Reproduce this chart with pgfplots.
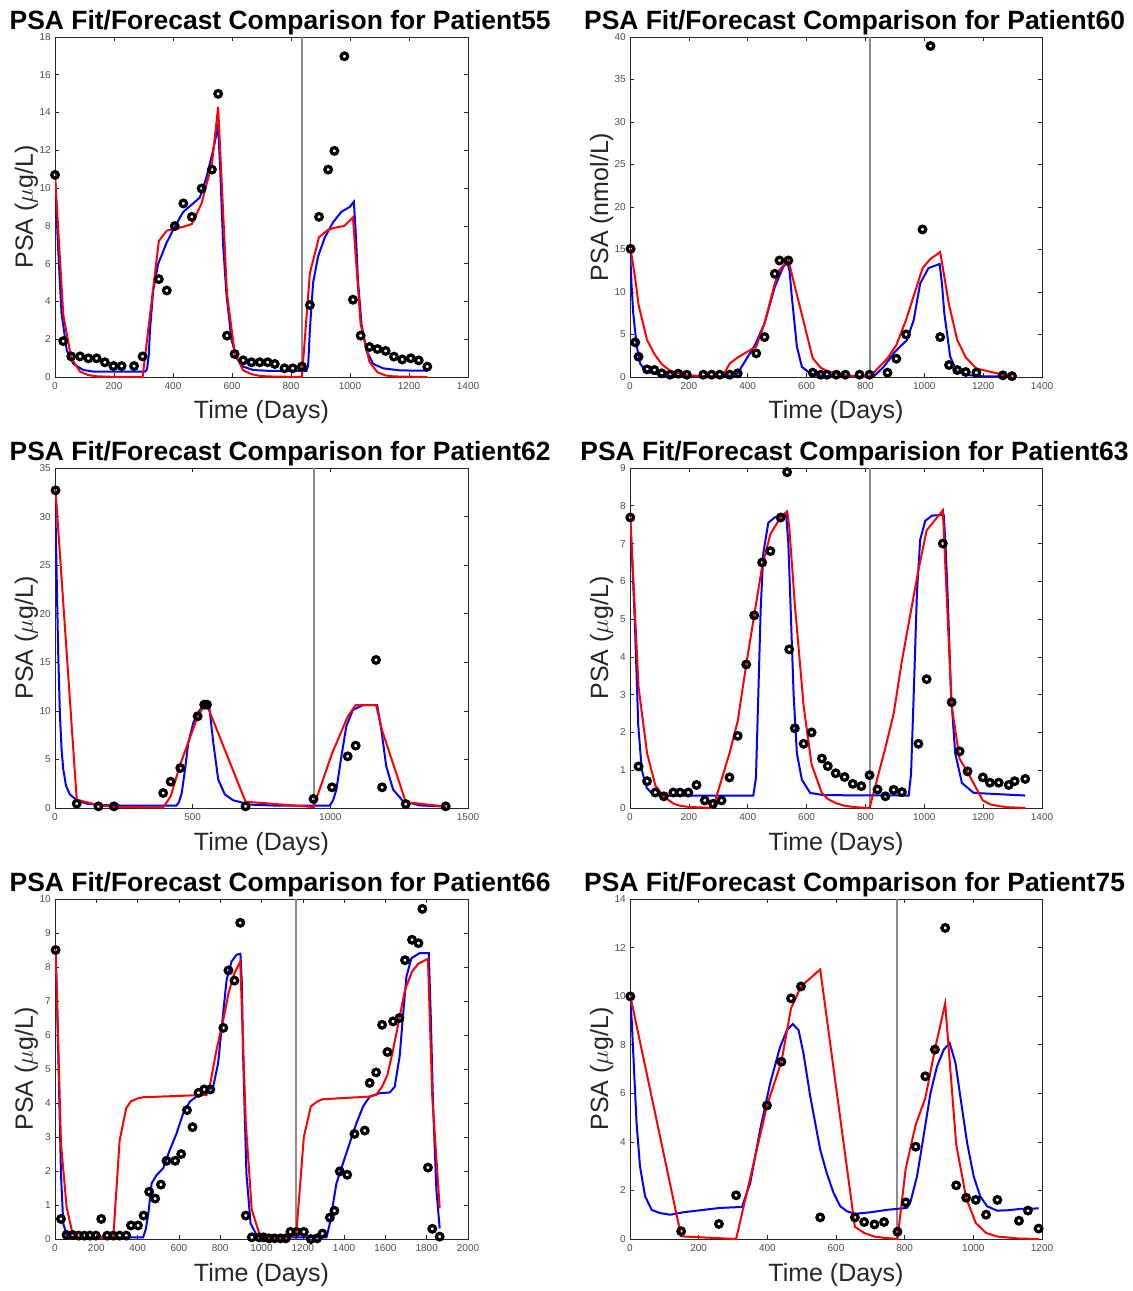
\documentclass[border=0pt]{standalone}
\usepackage{fontspec}
\setmainfont{Liberation Sans}
\usepackage{pgfplots}
\pgfplotsset{compat=1.18}
\definecolor{axgray}{gray}{0.15}
\definecolor{tkgray}{gray}{0.3}
\definecolor{vgray}{gray}{0.55}
\pgfplotsset{
  psa/.style={
    scale only axis, width=413bp, height=340bp,
    xmin=0, ymin=0,
    axis line style={axgray, line width=0.6bp},
    every tick/.style={axgray, line width=0.6bp},
    major tick length=4bp,
    tick align=inside,
    tick label style={font=\fontsize{10bp}{12bp}\selectfont, text=tkgray},
    xticklabel style={inner sep=0pt, anchor=north, yshift=-5bp},
    yticklabel style={inner sep=0pt, anchor=east, xshift=-4bp},
    /pgf/number format/assume math mode=true,
    /pgf/number format/1000 sep={},
    scaled ticks=false,
    every axis title shift=0pt,
    title style={font=\fontsize{26.45bp}{30bp}\selectfont\bfseries, at={(axis description cs:0.545,1.0235)}, anchor=base, inner sep=0pt},
    xlabel={Time (Days)},
    xlabel style={font=\fontsize{25bp}{30bp}\selectfont, text=axgray, at={(axis description cs:0.5,-0.1235)}, anchor=base, inner sep=0pt},
    ylabel style={font=\fontsize{25bp}{30bp}\selectfont, text=axgray, at={(axis description cs:-0.0533,0.5)}, anchor=base, inner sep=0pt},
    clip=true,
  },
  bl/.style={color={rgb,1:red,0;green,0;blue,1}, line width=2bp, no marks},
  rd/.style={color={rgb,1:red,1;green,0;blue,0}, line width=2bp, no marks},
  vl/.style={color=vgray, line width=2bp, no marks},
  pts/.style={only marks, mark=o, mark size=3.3bp, line width=3.2bp, color=black},
}
\begin{document}
\begin{tikzpicture}
\useasboundingbox (0,0) rectangle (1133bp,-1291bp);

% ---------------- Panel 1: Patient55
\begin{axis}[psa, at={(55bp,-377bp)}, anchor=south west,
  xmax=1400, ymax=18, xtick={0,200,...,1400}, ytick={0,2,...,18},
  title={PSA Fit/Forecast Comparison for Patient55},
  ylabel={PSA ($\mu$g/L)}]
\addplot[vl] coordinates {(837,0) (837,18)};
\addplot[bl] coordinates {(0,10.6) (10,7) (22,3.4) (40,1.4) (62,0.7) (96,0.37) (130,0.29) (200,0.28) (305,0.28) (312,0.4) (318,1.2) (322,2.5) (333,4.6) (350,6.0) (378,7.1) (406,7.95) (435,8.75) (469,9.2) (491,9.5) (514,10.6) (536,12.0) (553,13.3) (560,11) (570,7) (581,4.4) (598,2.0) (615,1.0) (638,0.55) (672,0.37) (720,0.33) (852,0.32) (858,0.6) (864,2.5) (875,5.0) (892,6.4) (915,7.4) (943,8.2) (971,8.75) (999,9.0) (1013,9.28) (1020,7.5) (1027,5.1) (1039,2.8) (1056,1.4) (1078,0.7) (1112,0.46) (1169,0.35) (1262,0.33)};
\addplot[rd] coordinates {(0,10.7) (28,3.3) (55,1.0) (85,0.28) (113,0.1) (141,0.04) (169,0.02) (198,0.01) (297,0) (352,7.2) (379,7.75) (406,7.85) (435,7.95) (464,8.1) (497,9.2) (532,11.3) (553,14.3) (583,4.4) (609,1.3) (638,0.35) (666,0.15) (694,0.06) (721,0.03) (837,0) (864,5.5) (895,7.4) (926,7.8) (947,7.9) (981,8.0) (1010,8.45) (1036,2.8) (1066,0.8) (1093,0.25) (1121,0.08) (1149,0.03) (1262,0)};
\addplot[pts] coordinates {(0,10.7) (28,1.9) (55,1.09) (85,1.09) (113,0.99) (141,0.99) (169,0.78) (198,0.58) (226,0.58) (268,0.58) (297,1.09) (352,5.18) (379,4.58) (406,7.99) (435,9.19) (464,8.48) (497,9.98) (532,10.98) (553,14.99) (583,2.19) (609,1.22) (638,0.88) (666,0.78) (694,0.78) (721,0.78) (745,0.69) (778,0.46) (806,0.46) (837,0.55) (864,3.81) (895,8.48) (926,10.98) (947,11.97) (981,16.98) (1010,4.09) (1036,2.19) (1066,1.59) (1093,1.48) (1121,1.38) (1149,1.08) (1177,0.93) (1206,0.99) (1233,0.88) (1262,0.55)};
\end{axis}

% ---------------- Panel 2: Patient60
\begin{axis}[psa, width=412bp, at={(630bp,-377bp)}, anchor=south west,
  xmax=1400, ymax=40, xtick={0,200,...,1400}, ytick={0,5,...,40},
  title={PSA Fit/Forecast Comparison for Patient60},
  ylabel={PSA (nmol/L)}]
\addplot[vl] coordinates {(814,0) (814,40)};
\addplot[bl] coordinates {(0,15) (5,11) (11,7.5) (23,3.6) (34,1.6) (51,0.8) (79,0.4) (113,0.2) (160,0.1) (329,0.1) (345,0.2) (366,0.45) (397,2.2) (425,3.8) (457,6.3) (492,10.6) (521,13.0) (535,13.4) (542,12.5) (550,9.4) (567,3.6) (584,1.2) (612,0.43) (658,0.12) (700,0.05) (828,0.05) (862,1.2) (901,3.0) (941,4.35) (964,6.7) (986,11.0) (1014,12.8) (1052,13.3) (1060,11) (1068,7.5) (1088,2.4) (1111,0.6) (1156,0.2) (1200,0.08) (1298,0.05)};
\addplot[rd] coordinates {(2,15.1) (18,11.5) (29,8.5) (58,4.35) (83,2.7) (108,1.5) (136,0.75) (164,0.43) (193,0.2) (249,0.1) (277,0.1) (315,0.1) (339,1.6) (366,2.3) (429,3.6) (457,6.3) (492,11.0) (508,12.6) (538,13.75) (621,2.2) (648,1.1) (669,0.7) (701,0.4) (732,0.2) (780,0.04) (814,0) (875,2.2) (905,3.75) (938,6.7) (994,12.8) (1021,13.9) (1054,14.7) (1084,8.5) (1112,4.35) (1141,2.3) (1177,1.0) (1267,0.27) (1298,0.1)};
\addplot[pts] coordinates {(2,15.08) (18,4.07) (29,2.39) (58,0.9) (83,0.82) (108,0.43) (136,0.27) (164,0.39) (193,0.27) (249,0.27) (277,0.27) (305,0.27) (339,0.27) (366,0.43) (429,2.78) (457,4.7) (492,12.14) (508,13.71) (538,13.71) (621,0.51) (648,0.27) (669,0.27) (701,0.27) (732,0.27) (780,0.27) (814,0.27) (875,0.51) (905,2.15) (938,5.01) (994,17.36) (1021,38.94) (1054,4.70) (1084,1.41) (1112,0.82) (1141,0.59) (1177,0.51) (1267,0.2) (1298,0.1)};
\end{axis}

% ---------------- Panel 3: Patient62
\begin{axis}[psa, at={(55bp,-808bp)}, anchor=south west,
  xmax=1500, ymax=35, xtick={0,500,...,1500}, ytick={0,5,...,35},
  title={PSA Fit/Forecast Comparison for Patient62},
  ylabel={PSA ($\mu$g/L)}]
\addplot[vl] coordinates {(939,0) (939,35)};
\addplot[bl] coordinates {(0,32.7) (4,27) (8,21) (12,15.5) (18,9.5) (24,6) (30,4) (40,2.3) (54,1.4) (79,0.8) (115,0.45) (163,0.3) (250,0.25) (441,0.25) (450,0.6) (460,1.5) (472,3.9) (484,6.7) (502,8.75) (526,10.1) (544,10.5) (560,10.5) (575,6.7) (593,2.9) (617,1.4) (647,0.8) (708,0.35) (800,0.25) (998,0.25) (1010,0.8) (1022,1.9) (1040,5.3) (1058,8.4) (1082,10.1) (1119,10.6) (1170,10.6) (1185,8.1) (1203,4.3) (1228,1.9) (1264,0.7) (1325,0.27) (1421,0.14)};
\addplot[rd] coordinates {(2,32.7) (79,0.86) (158,0.3) (214,0.1) (393,0.05) (420,1.2) (455,4.5) (518,9.4) (542,10.6) (552,10.6) (692,0.65) (939,0.1) (1006,5.6) (1063,9.4) (1092,10.6) (1166,10.6) (1188,8.0) (1274,0.6) (1419,0.15)};
\addplot[pts] coordinates {(2,32.7) (79,0.45) (158,0.17) (214,0.17) (393,1.54) (420,2.71) (455,4.12) (518,9.44) (542,10.64) (552,10.64) (692,0.17) (939,0.93) (1006,2.13) (1063,5.32) (1092,6.42) (1166,15.24) (1188,2.13) (1274,0.41) (1419,0.17)};
\end{axis}

% ---------------- Panel 4: Patient63
\begin{axis}[psa, width=412bp, at={(630bp,-808bp)}, anchor=south west,
  xmax=1400, ymax=9, xtick={0,200,...,1400}, ytick={0,1,...,9},
  title={PSA Fit/Forecast Comparision for Patient63},
  ylabel={PSA ($\mu$g/L)}]
\addplot[vl] coordinates {(814,0) (814,9)};
\addplot[bl] coordinates {(0,7.7) (8,6.5) (17,4.8) (28,2.2) (40,1.0) (57,0.53) (79,0.35) (120,0.33) (419,0.33) (428,0.8) (436,3.0) (444,5.25) (453,6.75) (470,7.55) (493,7.7) (531,7.75) (538,7.0) (544,5.7) (556,3.0) (567,1.45) (584,0.75) (612,0.4) (658,0.34) (947,0.33) (955,0.9) (964,3.0) (975,5.7) (986,7.1) (1003,7.6) (1026,7.74) (1066,7.76) (1072,7.0) (1079,5.7) (1091,3.0) (1105,1.45) (1128,0.66) (1168,0.4) (1343,0.33)};
\addplot[rd] coordinates {(1,7.7) (29,3.2) (58,1.45) (86,0.6) (115,0.3) (147,0.12) (170,0.06) (198,0.03) (226,0.02) (254,0.01) (282,0) (311,0.75) (338,1.45) (366,2.3) (395,3.8) (422,5.1) (449,6.4) (477,7.25) (512,7.7) (534,7.85) (541,7.45) (560,5.4) (590,2.7) (617,1.15) (652,0.4) (672,0.24) (699,0.13) (729,0.06) (757,0.03) (786,0.01) (814,0) (841,0.8) (868,1.6) (896,2.5) (924,3.9) (980,6.3) (1008,7.35) (1063,7.88) (1093,2.7) (1120,1.3) (1147,0.95) (1199,0.2) (1223,0.1) (1253,0.05) (1287,0.02) (1343,0)};
\addplot[pts] coordinates {(1,7.69) (29,1.10) (58,0.71) (86,0.41) (115,0.31) (147,0.41) (170,0.41) (198,0.41) (226,0.61) (254,0.2) (282,0.11) (311,0.2) (338,0.81) (366,1.91) (395,3.80) (422,5.10) (449,6.50) (477,6.80) (512,7.69) (534,8.89) (541,4.20) (560,2.11) (590,1.70) (617,2.0) (652,1.31) (672,1.11) (699,0.92) (729,0.82) (757,0.64) (786,0.58) (814,0.87) (841,0.49) (868,0.31) (896,0.48) (924,0.42) (980,1.70) (1008,3.41) (1063,7.0) (1093,2.80) (1120,1.50) (1147,0.97) (1199,0.81) (1223,0.67) (1253,0.67) (1287,0.61) (1307,0.71) (1343,0.77)};
\end{axis}

% ---------------- Panel 5: Patient66
\begin{axis}[psa, at={(55bp,-1239bp)}, anchor=south west,
  xmax=2000, ymax=10, xtick={0,200,...,2000}, ytick={0,1,...,10},
  title={PSA Fit/Forecast Comparison for Patient66},
  ylabel={PSA ($\mu$g/L)}]
\addplot[vl] coordinates {(1169,0) (1169,10)};
\addplot[bl] coordinates {(0,8.5) (8,7.5) (16,5.4) (29,1.9) (40,0.46) (56,0.12) (80,0.05) (427,0.05) (440,0.3) (452,0.75) (468,1.64) (492,1.88) (524,2.08) (556,2.62) (589,3.11) (621,3.7) (653,4.04) (685,4.19) (718,4.29) (766,4.48) (790,5.17) (806,6.15) (831,7.62) (855,8.16) (879,8.36) (898,8.39) (905,7.5) (911,5.37) (927,1.93) (947,0.46) (976,0.12) (1000,0.05) (1315,0.05) (1331,0.46) (1347,1.05) (1363,1.64) (1395,2.23) (1427,2.82) (1460,3.41) (1492,3.9) (1524,4.19) (1573,4.29) (1621,4.31) (1645,4.48) (1669,5.37) (1685,6.55) (1702,7.72) (1726,8.26) (1766,8.41) (1810,8.41) (1820,6.5) (1831,3.9) (1847,1.44) (1863,0.31)};
\addplot[rd] coordinates {(3,8.5) (29,2.8) (56,0.95) (85,0.15) (115,0.05) (142,0.03) (282,0.02) (313,2.9) (345,3.85) (368,4.05) (402,4.14) (429,4.17) (734,4.24) (752,4.58) (782,5.56) (815,6.45) (840,7.23) (869,7.82) (897,8.16) (924,3.4) (953,0.85) (989,0.17) (1010,0.05) (1140,0.05) (1169,0.2) (1205,3.0) (1239,3.9) (1269,4.04) (1295,4.11) (1524,4.19) (1555,4.24) (1584,4.48) (1610,4.83) (1637,5.56) (1668,6.5) (1695,7.33) (1729,7.87) (1760,8.1) (1806,8.24) (1827,4.19) (1863,0.9)};
\addplot[pts] coordinates {(3,8.50) (29,0.59) (56,0.12) (85,0.12) (115,0.1) (142,0.1) (169,0.1) (198,0.1) (224,0.59) (253,0.1) (282,0.1) (313,0.1) (345,0.1) (368,0.4) (402,0.4) (429,0.69) (456,1.39) (485,1.19) (513,1.6) (540,2.30) (582,2.30) (611,2.50) (639,3.79) (666,3.29) (695,4.30) (723,4.40) (752,4.40) (815,6.21) (840,7.90) (869,7.60) (897,9.30) (924,0.69) (953,0.05) (989,0.05) (1010,0.05) (1037,0.02) (1063,0.02) (1092,0.02) (1118,0.02) (1140,0.21) (1169,0.21) (1205,0.21) (1239,0.0) (1269,0.02) (1295,0.16) (1331,0.63) (1353,0.83) (1379,1.99) (1415,1.89) (1450,3.09) (1500,3.19) (1524,4.59) (1555,4.90) (1584,6.30) (1610,5.50) (1637,6.40) (1668,6.50) (1695,8.20) (1729,8.80) (1760,8.70) (1779,9.71) (1806,2.10) (1827,0.30) (1863,0.07)};
\end{axis}

% ---------------- Panel 6: Patient75
\begin{axis}[psa, width=412bp, at={(630bp,-1239bp)}, anchor=south west,
  xmax=1200, ymax=14, xtick={0,200,...,1200}, ytick={0,2,...,14},
  title={PSA Fit/Forecast Comparison for Patient75},
  ylabel={PSA ($\mu$g/L)}]
\addplot[vl] coordinates {(779,0) (779,14)};
\addplot[bl] coordinates {(0,10) (5,9) (10,7.5) (19,4.8) (29,3.0) (44,1.76) (63,1.2) (87,1.07) (117,1.0) (155,1.1) (214,1.2) (262,1.28) (326,1.32) (350,2.3) (379,4.5) (408,6.4) (437,7.9) (457,8.6) (474,8.85) (491,8.6) (505,7.66) (525,5.87) (554,3.68) (573,2.72) (593,1.89) (612,1.35) (632,1.14) (655,1.04) (700,1.1) (748,1.2) (806,1.28) (816,1.48) (836,2.58) (855,4.23) (875,6.0) (894,7.1) (914,7.8) (931,8.07) (948,7.25) (962,5.87) (982,3.95) (1001,2.58) (1020,1.76) (1040,1.35) (1069,1.17) (1098,1.18) (1137,1.24) (1190,1.26)};
\addplot[rd] coordinates {(1,10) (149,0.11) (309,0) (399,5.5) (441,7.3) (469,9.5) (498,10.4) (554,11.1) (655,0.5) (682,0.25) (712,0.1) (740,0.05) (779,0) (803,2.9) (832,4.7) (860,5.8) (888,7.8) (918,9.7) (950,3.9) (979,1.7) (1007,0.66) (1037,0.25) (1070,0.1) (1133,0.02) (1190,0)};
\addplot[pts] coordinates {(1,9.99) (149,0.32) (259,0.62) (309,1.80) (399,5.50) (441,7.30) (469,9.91) (498,10.40) (554,0.89) (655,0.89) (682,0.70) (712,0.60) (740,0.70) (779,0.30) (803,1.51) (832,3.80) (860,6.70) (888,7.80) (918,12.81) (950,2.21) (979,1.70) (1007,1.61) (1037,1.0) (1070,1.61) (1133,0.75) (1159,1.17) (1190,0.43)};
\end{axis}
\end{tikzpicture}
\end{document}
